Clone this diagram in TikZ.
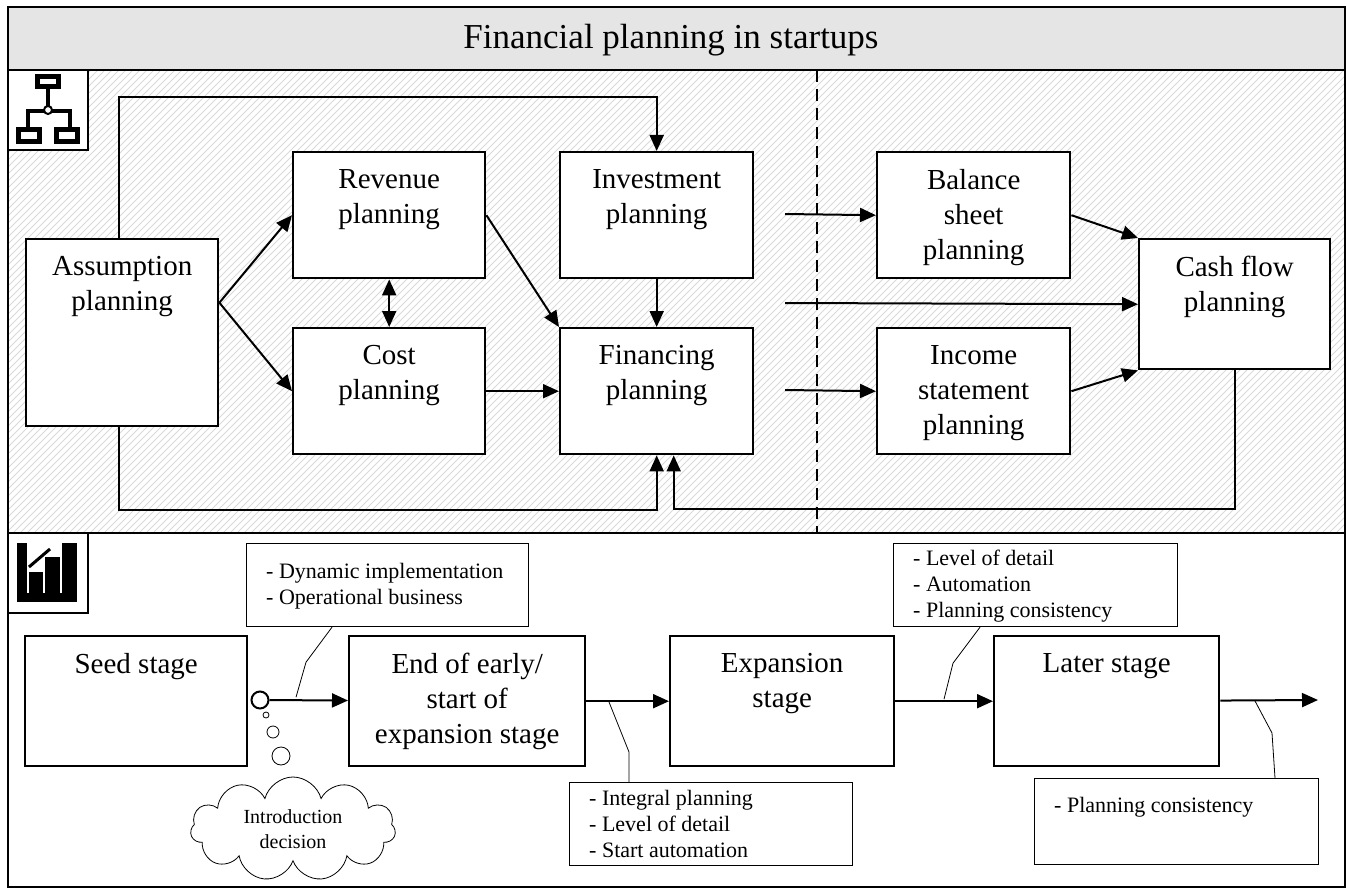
\documentclass[tikz,border=0pt]{standalone}
\usepackage{fontspec}
\setmainfont{Liberation Serif}
\usetikzlibrary{arrows.meta,shapes.symbols}

\tikzset{
  planbox/.style={draw, line width=2.4pt, fill=white, anchor=north west, inner sep=0pt},
  plantext/.style={anchor=north, inner sep=0pt, align=center, font=\fontsize{29}{35}\selectfont},
  notebox/.style={draw, line width=1.2pt, fill=white, anchor=north west, inner sep=0pt},
  notetext/.style={anchor=north west, inner sep=0pt, align=left, font=\fontsize{22}{26}\selectfont},
  arr/.style={line width=2pt, -{Triangle[length=16pt,width=14pt]}},
  dblarr/.style={line width=2pt, {Triangle[length=16pt,width=14pt]}-{Triangle[length=16pt,width=14pt]}},
  lead/.style={line width=0.8pt},
  frameline/.style={line width=2pt},
  bubble/.style={circle, draw, line width=0.8pt, inner sep=0pt},
}
\newcommand*{\PlanBoxes}[1]{% #1 = list of name/x/y/w/h/text
  \foreach \name/\x/\y/\w/\h/\txt in {#1} {
    \node [planbox, minimum width=\w pt, minimum height=\h pt] (\name) at (\x,\y) {};
    \node [plantext] (\name-t) at ([yshift=-18pt]\name.north) {\txt};
  }%
}
\newcommand*{\NoteBoxes}[1]{% #1 = list of name/x/y/w/h/gap/text
  \foreach \name/\x/\y/\w/\h/\gp/\txt in {#1} {
    \node [notebox, minimum width=\w pt, minimum height=\h pt] (\name) at (\x,\y) {};
    \node [notetext] (\name-t) at ([xshift=20pt,yshift=-\gp pt]\name.north west) {\txt};
  }%
}

\begin{document}
\begin{tikzpicture}[x=1pt, y=-1pt]
  \useasboundingbox (0,0) rectangle (1347,888);
  % title band and hatched upper part
  \fill [black!10] (8,7) rectangle (1345,70);
  \begin{scope}
    \clip (8,70) rectangle (1345,533);
    \foreach \i in {-470,-463,...,1350} {
      \draw [black!15, line width=1pt] (\i,533) -- (\i+463,70);
    }
  \end{scope}
  \node [font=\fontsize{35}{42}\selectfont] (title) at (671,40) {Financial planning in startups};
  \draw [frameline] (8,70) -- (1345,70);
  \draw [frameline] (8,533) -- (1345,533);
  \draw [line width=2pt, dash pattern=on 12pt off 7pt] (817,70) -- (817,533);

  % icons
  \draw [frameline, fill=white] (8,70) rectangle (88,150);
  \fill (35,74) rectangle (61,89);
  \fill [white] (40,79) rectangle (56,84);
  \draw [line width=3.5pt] (48,89) -- (48,106);
  \draw [line width=3.5pt] (28,128) -- (28,111) -- (70,111) -- (70,128);
  \draw [line width=2pt, fill=white] (48,110) circle (4);
  \fill (16,127) rectangle (42,144);
  \fill [white] (21,132) rectangle (37,139);
  \fill (54,127) rectangle (80,144);
  \fill [white] (59,132) rectangle (75,139);

  \draw [frameline, fill=white] (8,533) rectangle (88,613);
  \fill (17,543) rectangle (27,602);
  \fill (17,593) rectangle (77,602);
  \fill (29,572) rectangle (43,602);
  \fill (45,557) rectangle (60,602);
  \fill (62,543) rectangle (77,602);
  \draw [line width=3pt] (29,567) -- (50,549);

  % planning boxes
  \PlanBoxes{assum/25/238/192/187/{Assumption\\planning},
    rev/292/151/192/126/{Revenue\\planning},
    cost/292/327/192/126/{Cost\\planning},
    inv/559/151/193/126/{Investment\\planning},
    fin/559/327/193/126/{Financing\\planning},
    bal/876/151/193/126/{Balance\\sheet\\planning},
    inc/876/327/193/126/{Income\\statement\\planning},
    cash/1138/238/191/130/{Cash flow\\planning}}

  \draw [arr] ([yshift=30pt]assum.east) -- (rev.west);
  \draw [arr] ([yshift=30pt]assum.east) -- (cost.west);
  \draw [dblarr] (rev.south) -- (cost.north);
  \draw [arr] (rev.east) -- (fin.north west);
  \draw [arr] (cost.east) -- (fin.west);
  \draw [arr] (inv.south) -- (fin.north);
  \draw [arr] ([xshift=-3pt]assum.north) -- ++(0,-141) -| (inv.north);
  \draw [arr] ([xshift=-3pt]assum.south) -- ++(0,83) -| (fin.south);
  \draw [arr] (cash.south) -- ++(0,139) -| ([xshift=17pt]fin.south);
  \coordinate (bal-in) at (785,214);
  \coordinate (cash-in) at (785,303);
  \coordinate (inc-in) at (785,390);
  \draw [arr] (bal-in) -- (bal.west);
  \draw [arr] (cash-in) -- (cash.west);
  \draw [arr] (inc-in) -- (inc.west);
  \draw [arr] (bal.east) -- (cash.north west);
  \draw [arr] (inc.east) -- (cash.south west);

  % stages
  \PlanBoxes{seed/24/635/222/130/{Seed stage},
    early/348/635/236/130/{End of early/\\start of\\expansion stage},
    expan/669/635/224/130/{Expansion\\stage},
    later/993/635/225/130/{Later stage}}

  \NoteBoxes{dyn/246/543/282/83/20/{- Dynamic implementation\\- Operational business},
    integ/569/782/283/83/8/{- Integral planning\\- Level of detail\\- Start automation},
    detail/893/543/284/83/7/{- Level of detail\\- Automation\\- Planning consistency},
    consist/1034/778/284/86/19/{- Planning consistency}}

  \node [cloud, draw, line width=0.8pt, cloud puffs=11, cloud ignores aspect,
    minimum width=205pt, minimum height=104pt, align=center,
    font=\fontsize{20}{25}\selectfont] (idea) at (293,829) {Introduction\\decision};
  \node [bubble, minimum size=18pt] (bub3) at (281,756) {};
  \node [bubble, minimum size=12pt] (bub2) at (273,732) {};
  \node [bubble, minimum size=6pt] (bub1) at (266,715) {};
  \node [circle, draw, line width=2pt, minimum size=17pt, inner sep=0pt] (start) at (260,700) {};

  \draw [arr] (start) -- (early);
  \draw [arr] (early) -- (expan);
  \draw [arr] (expan) -- (later);
  \coordinate (outlet) at (1318,700);
  \draw [arr] (later) -- (outlet);

  \draw [lead] ([xshift=86pt]dyn.south west) -- ++(-26,35) -- ++(-10,35);
  \draw [lead] ([xshift=60pt]integ.north west) -- ++(0,-30) -- ++(-20,-50);
  \draw [lead] ([xshift=87pt]detail.south west) -- ++(-27,36) -- ++(-9,36);
  \draw [lead] ([xshift=241pt]consist.north west) -- ++(-3,-45) -- ++(-17,-32);

  \draw [frameline] (8,7) rectangle (1345,887);
\end{tikzpicture}
\end{document}
